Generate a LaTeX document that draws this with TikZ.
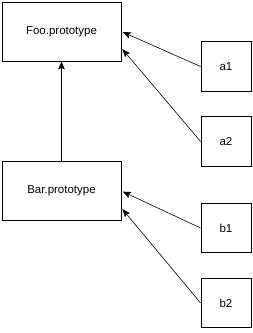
\documentclass[tikz,border=0pt]{standalone}
\usepackage{fontspec}
\setmainfont{Liberation Sans}
\usetikzlibrary{arrows.meta,positioning,calc}

\begin{document}
\begin{tikzpicture}[
  x=1pt, y=-1pt,
  proto/.style={draw=black, line width=0.8pt, minimum width=119pt,
    minimum height=59pt, inner sep=0pt, font=\fontsize{11.5}{13}\selectfont},
  inst/.style={proto, minimum width=50pt, minimum height=49.5pt},
  arrow/.style={-{Stealth[length=8pt,width=6.5pt,inset=1.5pt]}, line width=0.6pt,
    draw=black, shorten >=1.5pt}
]
\useasboundingbox (0,0) rectangle (253,333);
\node[proto] (foo) at (61.5,31.5) {Foo.prototype};
\node[proto] (bar) at (61.5,191) {Bar.prototype};
\node[inst] (a1) at (226,66.5) {a1};
\node[inst] (a2) at (226,141.5) {a2};
\node[inst] (b1) at (226,228) {b1};
\node[inst] (b2) at (226,303) {b2};
\draw[arrow, shorten >=0pt] (bar) -- (foo);
\draw[arrow] (a1.west) -- (foo.east);
\draw[arrow] (a2.west) -- ($(foo.east)+(0,16.5)$);
\draw[arrow] (b1.west) -- (bar.east);
\draw[arrow] (b2.west) -- ($(bar.east)+(0,17)$);
\end{tikzpicture}
\end{document}
